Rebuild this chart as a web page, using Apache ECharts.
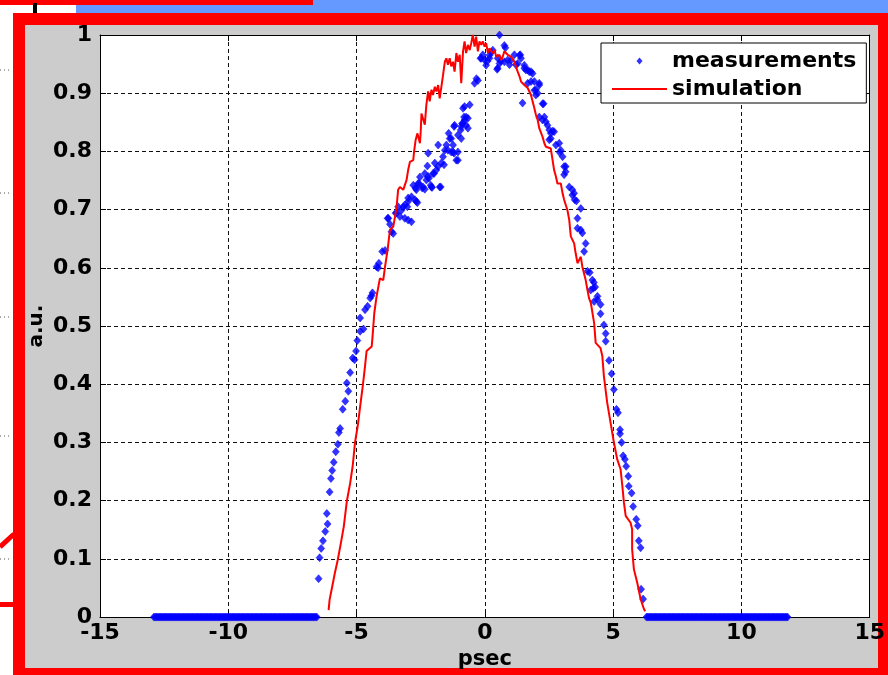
<!DOCTYPE html>
<html>
<head>
<meta charset="utf-8">
<script src="https://cdn.jsdelivr.net/npm/echarts@6/dist/echarts.min.js"></script>
<style>
  html, body { margin: 0; padding: 0; background: #ffffff; }
  #chart { width: 888px; height: 675px; }
</style>
</head>
<body>
<div id="chart"></div>
<script>
// Axis ticks
const xTicks = [-15, -10, -5, 0, 5, 10, 15];
const yTicks = [0, 0.1, 0.2, 0.3, 0.4, 0.5, 0.6, 0.7, 0.8, 0.9, 1];

// Measured samples sitting on the zero level outside the pulse (psec)
const baselineLeftX = [
  -12.90, -12.85, -12.80, -12.75, -12.70, -12.65, -12.60, -12.55, -12.50, -12.45,
  -12.40, -12.35, -12.30, -12.25, -12.20, -12.15, -12.10, -12.05, -12.00, -11.95,
  -11.90, -11.85, -11.80, -11.75, -11.70, -11.65, -11.60, -11.55, -11.50, -11.45,
  -11.40, -11.35, -11.30, -11.25, -11.20, -11.15, -11.10, -11.05, -11.00, -10.95,
  -10.90, -10.85, -10.80, -10.75, -10.70, -10.65, -10.60, -10.55, -10.50, -10.45,
  -10.40, -10.35, -10.30, -10.25, -10.20, -10.15, -10.10, -10.05, -10.00, -9.95,
  -9.90, -9.85, -9.80, -9.75, -9.70, -9.65, -9.60, -9.55, -9.50, -9.45,
  -9.40, -9.35, -9.30, -9.25, -9.20, -9.15, -9.10, -9.05, -9.00, -8.95,
  -8.90, -8.85, -8.80, -8.75, -8.70, -8.65, -8.60, -8.55, -8.50, -8.45,
  -8.40, -8.35, -8.30, -8.25, -8.20, -8.15, -8.10, -8.05, -8.00, -7.95,
  -7.90, -7.85, -7.80, -7.75, -7.70, -7.65, -7.60, -7.55, -7.50, -7.45,
  -7.40, -7.35, -7.30, -7.25, -7.20, -7.15, -7.10, -7.05, -7.00, -6.95,
  -6.90, -6.85, -6.80, -6.75, -6.70, -6.65, -6.60, -6.55];
const baselineRightX = [
  6.30, 6.35, 6.40, 6.45, 6.50, 6.55, 6.60, 6.65, 6.70, 6.75,
  6.80, 6.85, 6.90, 6.95, 7.00, 7.05, 7.10, 7.15, 7.20, 7.25,
  7.30, 7.35, 7.40, 7.45, 7.50, 7.55, 7.60, 7.65, 7.70, 7.75,
  7.80, 7.85, 7.90, 7.95, 8.00, 8.05, 8.10, 8.15, 8.20, 8.25,
  8.30, 8.35, 8.40, 8.45, 8.50, 8.55, 8.60, 8.65, 8.70, 8.75,
  8.80, 8.85, 8.90, 8.95, 9.00, 9.05, 9.10, 9.15, 9.20, 9.25,
  9.30, 9.35, 9.40, 9.45, 9.50, 9.55, 9.60, 9.65, 9.70, 9.75,
  9.80, 9.85, 9.90, 9.95, 10.00, 10.05, 10.10, 10.15, 10.20, 10.25,
  10.30, 10.35, 10.40, 10.45, 10.50, 10.55, 10.60, 10.65, 10.70, 10.75,
  10.80, 10.85, 10.90, 10.95, 11.00, 11.05, 11.10, 11.15, 11.20, 11.25,
  11.30, 11.35, 11.40, 11.45, 11.50, 11.55, 11.60, 11.65, 11.70, 11.75,
  11.80];
const baselineLevel = 0;

// Measured pulse: leading edge [psec, a.u.]
const measRise = [
  [-6.48, 0.066], [-6.44, 0.102], [-6.38, 0.118], [-6.31, 0.131], [-6.22, 0.147],
  [-6.13, 0.160], [-6.16, 0.178], [-6.05, 0.215], [-6.00, 0.238], [-5.95, 0.252],
  [-5.89, 0.266], [-5.81, 0.284], [-5.73, 0.297], [-5.69, 0.317], [-5.64, 0.324],
  [-5.54, 0.357], [-5.44, 0.371], [-5.32, 0.388], [-5.38, 0.402], [-5.25, 0.420],
  [-5.08, 0.442], [-5.15, 0.445], [-5.02, 0.457], [-4.97, 0.475], [-4.86, 0.491],
  [-4.73, 0.495], [-4.86, 0.514], [-4.67, 0.528], [-4.57, 0.534], [-4.47, 0.548],
  [-4.38, 0.557], [-4.42, 0.552], [-4.22, 0.602], [-4.13, 0.608], [-4.16, 0.600],
  [-4.00, 0.628], [-3.89, 0.630], [-3.79, 0.685], [-3.76, 0.685], [-3.70, 0.675],
  [-3.64, 0.662], [-3.57, 0.659], [-3.48, 0.694], [-3.44, 0.694], [-3.38, 0.705],
  [-3.31, 0.688], [-3.25, 0.699], [-3.18, 0.705], [-3.12, 0.685], [-3.12, 0.708],
  [-3.02, 0.705], [-2.99, 0.682], [-2.86, 0.679], [-2.99, 0.714], [-2.99, 0.720],
  [-2.86, 0.722], [-2.79, 0.742], [-2.73, 0.717], [-2.67, 0.714], [-2.63, 0.712],
  [-2.67, 0.734], [-2.70, 0.737], [-2.60, 0.745], [-2.57, 0.745], [-2.53, 0.756],
  [-2.44, 0.737], [-2.41, 0.739], [-2.34, 0.735], [-2.34, 0.762], [-2.28, 0.751],
  [-2.21, 0.757], [-2.18, 0.754], [-2.11, 0.742], [-2.08, 0.739], [-2.06, 0.738],
  [-2.02, 0.762], [-1.98, 0.762], [-1.95, 0.780], [-1.89, 0.768], [-1.82, 0.774],
  [-1.76, 0.739], [-1.72, 0.739], [-1.70, 0.780], [-1.59, 0.777], [-2.24, 0.775],
  [-2.21, 0.797], [-1.82, 0.811], [-1.63, 0.791], [-1.56, 0.802], [-1.50, 0.811],
  [-1.44, 0.802], [-1.37, 0.822], [-1.31, 0.799], [-1.24, 0.811], [-1.20, 0.797],
  [-1.11, 0.785], [-1.05, 0.799], [-1.05, 0.785], [-1.41, 0.831], [-1.31, 0.822],
  [-1.24, 0.799], [-1.20, 0.843], [-1.18, 0.845], [-1.05, 0.828], [-0.94, 0.837],
  [-0.92, 0.822], [-0.92, 0.843], [-0.89, 0.848], [-0.85, 0.848], [-0.81, 0.859],
  [-0.79, 0.854], [-0.73, 0.845], [-0.73, 0.859], [-0.66, 0.840], [-0.66, 0.857],
  [-0.85, 0.874], [-0.79, 0.877], [-0.59, 0.880]
];

// Measured pulse: crest [psec, a.u.]
const measTop = [
  [-0.40, 0.917], [-0.33, 0.925], [-0.27, 0.922], [-0.17, 0.960], [-0.14, 0.960],
  [-0.08, 0.966], [-0.01, 0.957], [0.05, 0.948], [0.10, 0.955], [0.18, 0.960],
  [0.18, 0.965], [0.25, 0.970], [0.31, 0.974], [0.48, 0.941], [0.50, 0.943],
  [0.50, 0.960], [0.57, 1.000], [0.57, 0.951], [0.62, 0.955], [0.76, 0.982],
  [0.80, 0.978], [0.76, 0.954], [0.89, 0.957], [0.96, 0.949], [1.02, 0.957],
  [1.15, 0.966], [1.21, 0.949], [1.28, 0.951], [1.35, 0.965], [1.38, 0.966],
  [1.41, 0.960], [1.54, 0.948], [1.54, 0.943], [1.60, 0.940], [1.67, 0.940],
  [1.73, 0.937], [1.80, 0.937], [1.86, 0.934], [1.67, 0.917], [1.80, 0.920],
  [1.93, 0.920], [1.99, 0.906], [2.12, 0.917], [1.93, 0.905], [1.99, 0.897],
  [1.47, 0.883], [2.25, 0.882]
];

// Measured pulse: trailing edge [psec, a.u.]
const measFall = [
  [2.06, 0.900], [2.12, 0.914], [2.29, 0.882], [2.32, 0.859], [2.12, 0.859],
  [2.25, 0.854], [2.38, 0.851], [2.44, 0.845], [2.51, 0.837], [2.57, 0.831],
  [2.64, 0.835], [2.70, 0.834], [2.51, 0.820], [2.57, 0.822], [2.77, 0.811],
  [2.90, 0.814], [2.96, 0.802], [2.92, 0.798], [3.03, 0.791], [3.09, 0.774],
  [3.15, 0.774], [3.09, 0.760], [3.15, 0.765], [3.29, 0.739], [3.41, 0.734],
  [3.41, 0.725], [3.48, 0.728], [3.50, 0.717], [3.57, 0.715], [3.74, 0.702],
  [3.61, 0.685], [3.61, 0.668], [3.74, 0.665], [3.80, 0.660], [3.93, 0.642],
  [3.87, 0.628], [4.00, 0.594], [4.09, 0.592], [4.19, 0.579], [4.25, 0.575],
  [4.23, 0.565], [4.30, 0.567], [4.39, 0.551], [4.13, 0.562], [4.26, 0.542],
  [4.39, 0.545], [4.51, 0.537], [4.51, 0.521], [4.64, 0.502], [4.71, 0.487],
  [4.71, 0.474], [4.84, 0.441], [4.94, 0.418], [5.03, 0.391], [5.13, 0.357],
  [5.19, 0.351], [5.27, 0.322], [5.27, 0.315], [5.33, 0.300], [5.39, 0.277],
  [5.46, 0.271], [5.51, 0.259], [5.59, 0.242], [5.61, 0.225], [5.72, 0.213],
  [5.78, 0.190], [5.90, 0.168], [5.96, 0.157], [6.00, 0.131], [6.07, 0.119],
  [6.09, 0.048], [6.17, 0.031]
];

// Simulated pulse [psec, a.u.]
const simulation = [
  [-6.09, 0.012], [-6.05, 0.030], [-5.96, 0.050], [-5.85, 0.075], [-5.73, 0.099],
  [-5.60, 0.130], [-5.50, 0.155], [-5.38, 0.199], [-5.25, 0.230], [-5.15, 0.260],
  [-5.06, 0.300], [-4.95, 0.330], [-4.86, 0.362], [-4.75, 0.400], [-4.67, 0.431],
  [-4.61, 0.457], [-4.41, 0.465], [-4.38, 0.480], [-4.31, 0.522], [-4.22, 0.551],
  [-4.09, 0.582], [-3.96, 0.579], [-3.89, 0.602], [-3.79, 0.631], [-3.70, 0.665],
  [-3.64, 0.662], [-3.57, 0.671], [-3.50, 0.688], [-3.44, 0.705], [-3.38, 0.734],
  [-3.31, 0.739], [-3.18, 0.734], [-3.05, 0.751], [-2.99, 0.768], [-2.92, 0.782],
  [-2.79, 0.785], [-2.76, 0.799], [-2.70, 0.819], [-2.63, 0.831], [-2.53, 0.814],
  [-2.50, 0.834], [-2.47, 0.865], [-2.41, 0.866], [-2.34, 0.846], [-2.28, 0.880],
  [-2.21, 0.903], [-2.15, 0.886], [-2.08, 0.906], [-2.02, 0.897], [-1.95, 0.911],
  [-1.89, 0.903], [-1.82, 0.914], [-1.76, 0.891], [-1.70, 0.909], [-1.63, 0.931],
  [-1.56, 0.954], [-1.50, 0.960], [-1.44, 0.949], [-1.37, 0.960], [-1.31, 0.946],
  [-1.24, 0.954], [-1.18, 0.937], [-1.11, 0.969], [-1.05, 0.954], [-0.98, 0.966],
  [-0.92, 0.917], [-0.85, 0.972], [-0.79, 0.989], [-0.73, 0.969], [-0.66, 0.983],
  [-0.59, 0.974], [-0.53, 0.986], [-0.47, 1.000], [-0.40, 0.980], [-0.34, 0.997],
  [-0.27, 0.972], [-0.21, 0.989], [-0.14, 0.983], [-0.08, 0.989], [-0.01, 0.980],
  [0.05, 0.986], [0.12, 0.969], [0.18, 0.977], [0.24, 0.977], [0.31, 0.969],
  [0.38, 0.974], [0.44, 0.963], [0.50, 0.960], [0.57, 0.966], [0.63, 0.957],
  [0.70, 0.963], [0.76, 0.972], [0.83, 0.974], [0.89, 0.966], [0.96, 0.966],
  [1.02, 0.963], [1.09, 0.960], [1.15, 0.954], [1.21, 0.946], [1.28, 0.937],
  [1.35, 0.929], [1.41, 0.920], [1.47, 0.917], [1.54, 0.914], [1.60, 0.914],
  [1.67, 0.909], [1.73, 0.906], [1.80, 0.897], [1.86, 0.886], [1.93, 0.874],
  [1.99, 0.863], [2.06, 0.854], [2.12, 0.840], [2.25, 0.825], [2.32, 0.814],
  [2.38, 0.808], [2.57, 0.805], [2.64, 0.785], [2.70, 0.768], [2.77, 0.757],
  [2.83, 0.745], [2.96, 0.745], [3.03, 0.728], [3.09, 0.717], [3.15, 0.714],
  [3.22, 0.699], [3.29, 0.682], [3.35, 0.654], [3.48, 0.642], [3.54, 0.625],
  [3.61, 0.608], [3.74, 0.619], [3.80, 0.602], [3.93, 0.579], [4.00, 0.562],
  [4.06, 0.548], [4.13, 0.540], [4.26, 0.505], [4.32, 0.471], [4.51, 0.462],
  [4.58, 0.448], [4.64, 0.414], [4.77, 0.368], [4.90, 0.334], [5.03, 0.300],
  [5.16, 0.271], [5.29, 0.254], [5.36, 0.225], [5.42, 0.197], [5.49, 0.174],
  [5.68, 0.162], [5.74, 0.151], [5.74, 0.117], [5.81, 0.082], [5.94, 0.059],
  [6.07, 0.031], [6.20, 0.014], [6.25, 0.010]
];

const FONT = 'DejaVu Sans';

const measurements = []
  .concat(baselineLeftX.map(x => [x, baselineLevel]))
  .concat(measRise, measTop, measFall)
  .concat(baselineRightX.map(x => [x, baselineLevel]));

const chart = echarts.init(document.getElementById('chart'), null, { renderer: 'canvas' });

const dashed = { color: '#111111', width: 1, type: [4, 3] };
const boxLine = { show: true, onZero: false, lineStyle: { color: '#000000', width: 1 } };
const inTicks = { show: true, inside: true, length: 6, lineStyle: { color: '#000000', width: 1 } };
const tickFont = { fontFamily: FONT, fontWeight: 'bold', fontSize: 22, color: '#000000' };

// legend glyphs laid out in a 55x8 box: small diamond in the middle, and a short bar
const diamondIcon = 'path://M0,0 L0,0 M55,8 L55,8 M27.5,0.5 L30.5,4 L27.5,7.5 L24.5,4 Z';
const barIcon = 'path://M0,0 L0,0 M55,8 L55,8 M0,3 L55,3 L55,5 L0,5 Z';

chart.setOption({
  animation: false,
  backgroundColor: '#ffffff',
  graphic: [
    // slide frame and backdrop
    { type: 'rect', z: -100, shape: { x: 76, y: 0, width: 812, height: 13 }, style: { fill: '#6699ff' } },
    { type: 'rect', z: -100, shape: { x: 0, y: 0, width: 313, height: 5 }, style: { fill: '#ff0000' } },
    { type: 'rect', z: -100, shape: { x: 33, y: 3, width: 4, height: 10 }, style: { fill: '#000000' } },
    { type: 'rect', z: -100, shape: { x: 13, y: 13, width: 880, height: 670 }, style: { fill: '#ff0000' } },
    { type: 'rect', z: -99, shape: { x: 25, y: 25, width: 853, height: 643 }, style: { fill: '#cccccc' } },
    { type: 'line', z: -100, shape: { x1: 0, y1: 547, x2: 14, y2: 534 }, style: { stroke: '#ff0000', lineWidth: 5 } },
    { type: 'rect', z: -100, shape: { x: 0, y: 602, width: 14, height: 5 }, style: { fill: '#ff0000' } },
    { type: 'line', z: -100, shape: { x1: 0, y1: 70, x2: 11, y2: 70 }, style: { stroke: '#555555', lineWidth: 1, lineDash: [1, 3] } },
    { type: 'line', z: -100, shape: { x1: 0, y1: 193, x2: 11, y2: 193 }, style: { stroke: '#555555', lineWidth: 1, lineDash: [1, 3] } },
    { type: 'line', z: -100, shape: { x1: 0, y1: 317, x2: 11, y2: 317 }, style: { stroke: '#555555', lineWidth: 1, lineDash: [1, 3] } },
    { type: 'line', z: -100, shape: { x1: 0, y1: 436, x2: 11, y2: 436 }, style: { stroke: '#555555', lineWidth: 1, lineDash: [1, 3] } },
    { type: 'line', z: -100, shape: { x1: 0, y1: 559, x2: 11, y2: 559 }, style: { stroke: '#555555', lineWidth: 1, lineDash: [1, 3] } }
  ],
  grid: {
    left: 100, top: 35, width: 773, height: 583,
    show: true, backgroundColor: '#ffffff', borderWidth: 0
  },
  legend: {
    left: 601, top: 43, orient: 'vertical',
    backgroundColor: '#ffffff', borderColor: '#000000', borderWidth: 1, borderRadius: 0,
    padding: [7, 10, 3, 11],
    itemWidth: 55, itemHeight: 8, itemGap: 6,
    textStyle: { fontFamily: FONT, fontWeight: 'bold', fontSize: 22, color: '#000000' },
    data: [
      { name: 'measurements', icon: diamondIcon, itemStyle: { color: '#0000ff', borderWidth: 0 } },
      { name: 'simulation', icon: barIcon, itemStyle: { color: '#ff0000', borderWidth: 0 } }
    ]
  },
  xAxis: [
    {
      type: 'value', min: xTicks[0], max: xTicks[xTicks.length - 1], interval: 5,
      position: 'bottom',
      name: 'psec', nameLocation: 'middle', nameGap: 28,
      nameTextStyle: { fontFamily: FONT, fontWeight: 'bold', fontSize: 21, color: '#000000' },
      axisLine: boxLine, axisTick: inTicks,
      axisLabel: Object.assign({ margin: 5 }, tickFont),
      splitLine: { show: true, lineStyle: dashed }
    },
    {
      type: 'value', min: xTicks[0], max: xTicks[xTicks.length - 1], interval: 5,
      position: 'top',
      axisLine: boxLine, axisTick: inTicks,
      axisLabel: { show: false }, splitLine: { show: false }
    }
  ],
  yAxis: [
    {
      type: 'value', min: yTicks[0], max: yTicks[yTicks.length - 1], interval: 0.1,
      position: 'left',
      name: 'a.u.', nameLocation: 'middle', nameGap: 53, nameMoveOverlap: false,
      nameTextStyle: { fontFamily: FONT, fontWeight: 'bold', fontSize: 20, color: '#000000' },
      axisLine: boxLine, axisTick: inTicks,
      axisLabel: Object.assign({ margin: 8, formatter: v => String(+v.toFixed(1)) }, tickFont),
      splitLine: { show: true, lineStyle: dashed }
    },
    {
      type: 'value', min: yTicks[0], max: yTicks[yTicks.length - 1], interval: 0.1,
      position: 'right',
      axisLine: boxLine, axisTick: inTicks,
      axisLabel: { show: false }, splitLine: { show: false }
    }
  ],
  series: [
    {
      name: 'measurements', type: 'scatter',
      symbol: 'diamond', symbolSize: [7, 8],
      itemStyle: { color: '#0000ff', borderColor: '#0000ff', borderWidth: 0.6 },
      data: measurements, z: 3
    },
    {
      name: 'simulation', type: 'line',
      symbol: 'none', showSymbol: false,
      lineStyle: { color: '#ff0000', width: 2 },
      itemStyle: { color: '#ff0000' },
      data: simulation, z: 4
    }
  ]
});
</script>
</body>
</html>
